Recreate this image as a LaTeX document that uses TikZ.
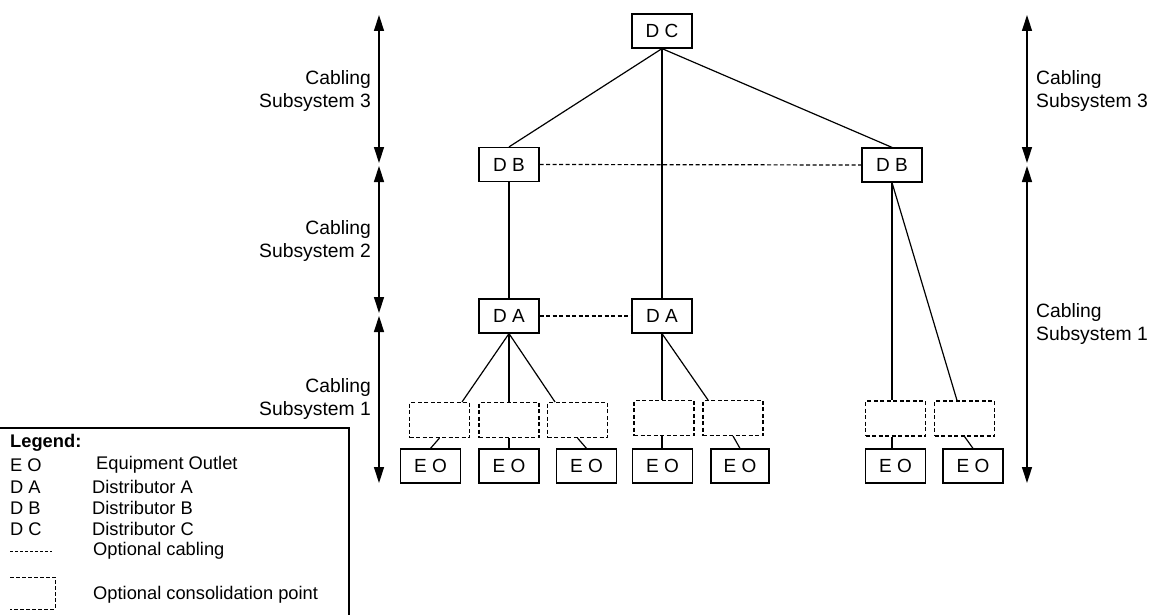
\documentclass[tikz,border=0pt]{standalone}
\usepackage{fontspec}
\setmainfont{Liberation Sans}
\usetikzlibrary{arrows.meta,calc}
\tikzset{
  box/.style={draw, line width=1.2pt, minimum width=60pt, minimum height=34pt, inner sep=0pt, font=\fontsize{19}{20}\selectfont},
  cpbox/.style={draw, dashed, dash pattern=on 4pt off 2.5pt, line width=1.1pt, minimum width=60pt, minimum height=35pt, inner sep=0pt},
  link/.style={line width=1.2pt},
  optlink/.style={line width=1.2pt, dash pattern=on 4pt off 2.5pt},
  dimarrow/.style={line width=1.4pt, {Triangle[length=16pt,width=10pt]}-{Triangle[length=16pt,width=10pt]}},
  lbl/.style={font=\fontsize{19.3}{23}\selectfont, inner sep=0pt},
  leg/.style={font=\fontsize{18.3}{20}\selectfont, inner sep=0pt, anchor=west}
}
\begin{document}
\begin{tikzpicture}[x=1pt,y=-1pt]
\useasboundingbox (0,0) rectangle (1150,615);
% distributors
\node[box] (dc) at (662,31) {D C};
\node[box] (dbl) at (509,164.5) {D B};
\node[box] (dbr) at (892,165) {D B};
\node[box] (dal) at (509,316) {D A};
\node[box] (dam) at (662,316) {D A};
% consolidation points
\node[cpbox] (cp1) at (439.5,420) {};
\node[cpbox] (cp2) at (509,420) {};
\node[cpbox] (cp3) at (577.5,420) {};
\node[cpbox] (cp4) at (664,418) {};
\node[cpbox] (cp5) at (733,418) {};
\node[cpbox] (cp6) at (895.5,418.5) {};
\node[cpbox] (cp7) at (964.5,418.5) {};
% equipment outlets
\node[box] (eo1) at (430.5,466) {E O};
\node[box] (eo2) at (509,466) {E O};
\node[box] (eo3) at (586.5,466) {E O};
\node[box] (eo4) at (662.5,466) {E O};
\node[box, minimum width=58pt] (eo5) at (740,466) {E O};
\node[box] (eo6) at (895.5,466) {E O};
\node[box] (eo7) at (973,466) {E O};
% cabling
\draw[link] (dc.south) -- (dbl.north);
\draw[link] (dc.south) -- (dbr.north);
\draw[link] (dc.south) -- (dam.north);
\draw[optlink] (dbl.east) -- (dbr.west);
\draw[link] (dbl.south) -- (dal.north);
\draw[optlink] (dal.east) -- (dam.west);
\draw[link] (dbr.south) -- (dbr.south |- cp6.north);
\draw[link] (dbr.south) -- ($(cp7.north)+(-7.5,0)$);
\draw[link] (dal.south) -- ($(cp1.north)+(22.5,0)$);
\draw[link] (dal.south) -- (cp2.north);
\draw[link] (dal.south) -- ($(cp3.north)+(-22.5,0)$);
\draw[link] (dam.south) -- (dam.south |- cp4.north);
\draw[link] (dam.south) -- ($(cp5.north)+(-25,0)$);
\draw[link] (cp1.south) -- (eo1.north);
\draw[link] (cp2.south) -- (eo2.north);
\draw[link] (cp3.south) -- (eo3.north);
\draw[link] (dam.south |- cp4.south) -- (dam.south |- eo4.north);
\draw[link] (cp5.south) -- (eo5.north);
\draw[link] (dbr.south |- cp6.south) -- (dbr.south |- eo6.north);
\draw[link] (cp7.south) -- (eo7.north);
% dimension arrows
\coordinate (l0) at (379,15);
\coordinate (l1a) at (379,163);
\coordinate (l1b) at (379,166);
\coordinate (l2a) at (379,313);
\coordinate (l2b) at (379,316);
\coordinate (l3) at (379,483);
\coordinate (r0) at (1027,15);
\coordinate (r1a) at (1027,163);
\coordinate (r1b) at (1027,166);
\coordinate (r3) at (1027,483);
\draw[dimarrow] (l0) -- (l1a);
\draw[dimarrow] (l1b) -- (l2a);
\draw[dimarrow] (l2b) -- (l3);
\draw[dimarrow] (r0) -- (r1a);
\draw[dimarrow] (r1b) -- (r3);
% labels
\node[lbl, align=right, anchor=east] (ls3) at (371,91) {Cabling\\Subsystem 3};
\node[lbl, align=right, anchor=east] (ls2) at (371,241) {Cabling\\Subsystem 2};
\node[lbl, align=right, anchor=east] (ls1) at (371,399.5) {Cabling\\Subsystem 1};
\node[lbl, align=left, anchor=west] (rs3) at (1036,91) {Cabling\\Subsystem 3};
\node[lbl, align=left, anchor=west] (rs1) at (1036,324) {Cabling\\Subsystem 1};
% legend
\draw[line width=1.2pt] (0,428) -- (349,428) -- (349,615);
\node[leg, font=\fontsize{18.3}{20}\selectfont\bfseries] (lg) at (10,443) {Legend:};
\node[leg] (k1) at (10,465) {E O};
\node[leg] (v1) at (96,465) {Equipment Outlet};
\node[leg] (k2) at (10,487) {D A};
\node[leg] (v2) at (92,487) {Distributor A};
\node[leg] (k3) at (10,508) {D B};
\node[leg] (v3) at (92,508) {Distributor B};
\node[leg] (k4) at (10,529) {D C};
\node[leg] (v4) at (92,529) {Distributor C};
\coordinate (d1) at (10,551);
\coordinate (d2) at (52,551);
\draw[optlink, line width=0.9pt, dash pattern=on 3pt off 2pt] (d1) -- (d2);
\node[leg] (v5) at (93,551) {Optional cabling};
\draw[optlink, line width=0.9pt, dash pattern=on 4pt off 2pt] (10,577) -- (55,577) -- (55,609) -- (10,609);
\node[leg] (v6) at (93,595) {Optional consolidation point};
\end{tikzpicture}
\end{document}
